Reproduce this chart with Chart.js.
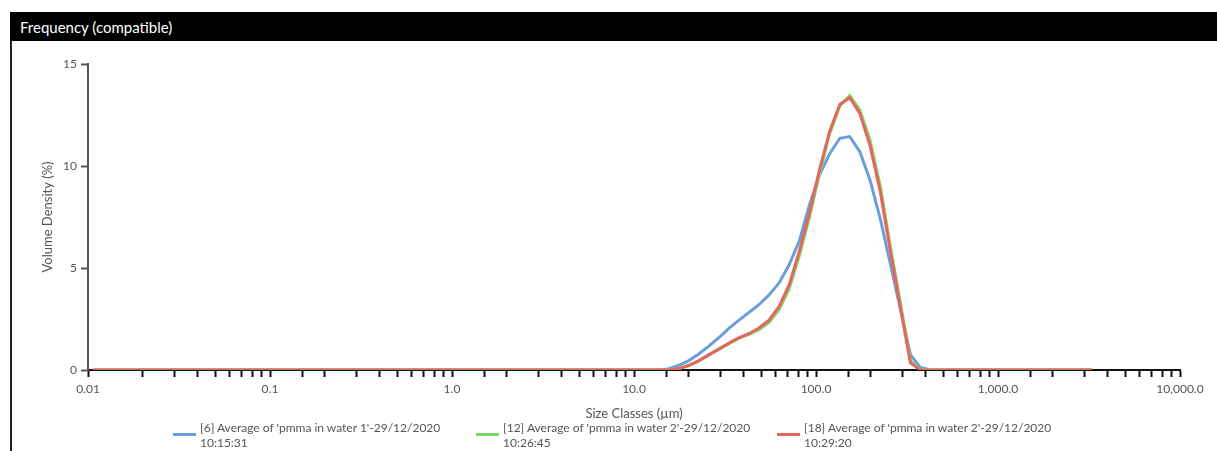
<!DOCTYPE html>
<html>
<head>
<meta charset="utf-8">
<title>Frequency (compatible)</title>
<script src="https://cdn.jsdelivr.net/npm/chart.js@4.4.1/dist/chart.umd.min.js"></script>
<style>
    html, body { margin: 0; padding: 0; background: #fff; }
    body { width: 1217px; height: 451px; position: relative; overflow: hidden; font-family: Lato, "Noto Sans", sans-serif; }
    #chart { position: absolute; left: 0; top: 0; }
    .title-bar {
        position: absolute; left: 10px; top: 12px; width: 1207px; height: 29px;
        background: #000; color: #fff; font-size: 15px; line-height: 30px;
        padding-left: 10px; box-sizing: border-box;
    }
    .left-border { position: absolute; left: 10px; top: 41px; width: 2px; height: 410px; background: #222; }
    .legend-item { position: absolute; top: 420px; font-size: 12px; line-height: 15px; color: #555; }
    .legend-item .swatch { position: absolute; left: 0; top: 13px; width: 23px; height: 3px; }
    .legend-item .text { margin-left: 27px; white-space: nowrap; }
</style>
</head>
<body>
<div class="title-bar">Frequency (compatible)</div>
<div class="left-border"></div>
<canvas id="chart" width="1217" height="451"></canvas>
<div id="legend"></div>

<script>
// =========================================================
// Data
// =========================================================

// size class centres (µm)
const sizeClasses = [0.0107, 13.6, 15.4, 17.5, 19.9, 22.6, 25.7, 29.2, 33.1, 37.6, 42.8, 48.6, 55.2,
    62.8, 71.3, 81.0, 92.1, 104.4, 118.9, 135.2, 153.2, 174.1, 198.2, 225.7, 255.5, 290.4,
    330.3, 375.2, 426.1, 484.0, 3283];

// volume density (%)
const water1Run6 = [0, 0, 0.05, 0.22, 0.45, 0.77, 1.16, 1.58, 2.03, 2.43, 2.82, 3.2,
    3.68, 4.28, 5.17, 6.33, 8.1, 9.55, 10.6, 11.36, 11.44, 10.7,
    9.3, 7.4, 5.25, 3.0, 0.75, 0.12, 0, 0, 0];
const water2Run12 = [0, 0, 0, 0.06, 0.2, 0.43, 0.72, 1.0, 1.28, 1.55, 1.75, 1.97, 2.33,
    2.97, 4.0, 5.6, 7.5, 9.6, 11.6, 12.95, 13.45, 12.75, 11.25,
    9.0, 6.1, 3.35, 0.45, 0.02, 0, 0, 0];
const water2Run18 = [0, 0, 0, 0.07, 0.22, 0.45, 0.74, 1.03, 1.31, 1.57, 1.78, 2.06, 2.44,
    3.13, 4.18, 5.83, 7.7, 9.8, 11.7, 13.02, 13.35, 12.58, 11.0,
    8.74, 5.9, 3.1, 0.35, 0, 0, 0, 0];

const seriesLabels = [
    ["[6] Average of 'pmma in water 1'-29/12/2020", "10:15:31"],
    ["[12] Average of 'pmma in water 2'-29/12/2020", "10:26:45"],
    ["[18] Average of 'pmma in water 2'-29/12/2020", "10:29:20"],
];

const xTickValues = [0.01, 0.1, 1, 10, 100, 1000, 10000];
const xTickLabels = ['0.01', '0.1', '1.0', '10.0', '100.0', '1,000.0', '10,000.0'];
const yTickValues = [0, 5, 10, 15];

// =========================================================
// Chart
// =========================================================

const seriesColors = ['#6a9fdc', '#7ed763', '#e2675c'];
const legendLeft = [173, 476, 777];

function toPoints(values) {
    return values.map((v, i) => ({ x: sizeClasses[i], y: v }));
}

const datasets = [water1Run6, water2Run12, water2Run18].map((values, i) => ({
    label: seriesLabels[i].join(' '),
    data: toPoints(values),
    borderColor: seriesColors[i],
    backgroundColor: seriesColors[i],
    borderWidth: 3,
    pointRadius: 0,
    tension: 0,
    order: 3 - i,   // red on top
}));

const axisFont = { family: 'Lato, "Noto Sans", sans-serif', size: 12 };

new Chart(document.getElementById('chart'), {
    type: 'line',
    data: { datasets: datasets },
    options: {
        responsive: false,
        animation: false,
        layout: { padding: { left: 0, top: 64, right: 37, bottom: 0 } },
        plugins: {
            legend: { display: false },
            tooltip: { enabled: false }
        },
        scales: {
            x: {
                type: 'logarithmic',
                min: 0.01,
                max: 10000,
                afterFit: scale => { scale.height = 81; },
                border: { display: true, color: '#111', width: 2 },
                grid: { drawOnChartArea: false, drawTicks: true, tickLength: 7, tickColor: '#111', tickWidth: 2 },
                ticks: {
                    autoSkip: false,
                    maxRotation: 0,
                    padding: 5,
                    color: '#555',
                    font: axisFont,
                    callback: value => {
                        const idx = xTickValues.findIndex(v => Math.abs(Math.log10(v) - Math.log10(value)) < 1e-6);
                        return idx >= 0 ? xTickLabels[idx] : '';
                    }
                },
                title: {
                    display: true,
                    text: 'Size Classes (µm)',
                    color: '#555',
                    font: { family: axisFont.family, size: 13 },
                    padding: { top: 0, bottom: 29 }
                }
            },
            y: {
                min: 0,
                max: 15,
                afterFit: scale => { scale.width = 88; },
                afterBuildTicks: scale => { scale.ticks = yTickValues.map(v => ({ value: v })); },
                border: { display: true, color: '#555', width: 2 },
                grid: { drawOnChartArea: false, drawTicks: true, tickLength: 7, tickColor: '#555', tickWidth: 2 },
                ticks: { padding: 4, color: '#555', font: axisFont },
                title: {
                    display: true,
                    text: 'Volume Density (%)',
                    color: '#555',
                    font: { family: axisFont.family, size: 13 },
                    padding: { top: 40, bottom: 0 }
                }
            }
        }
    }
});

// =========================================================
// Legend (two-line labels)
// =========================================================

const legendEl = document.getElementById('legend');
seriesLabels.forEach((lines, i) => {
    const item = document.createElement('div');
    item.className = 'legend-item';
    item.style.left = legendLeft[i] + 'px';
    item.innerHTML = '<div class="swatch" style="background:' + seriesColors[i] + '"></div>' +
        '<div class="text">' + lines.map(l => l.replace(/&/g, '&amp;').replace(/</g, '&lt;')).join('<br>') + '</div>';
    legendEl.appendChild(item);
});
</script>
</body>
</html>
